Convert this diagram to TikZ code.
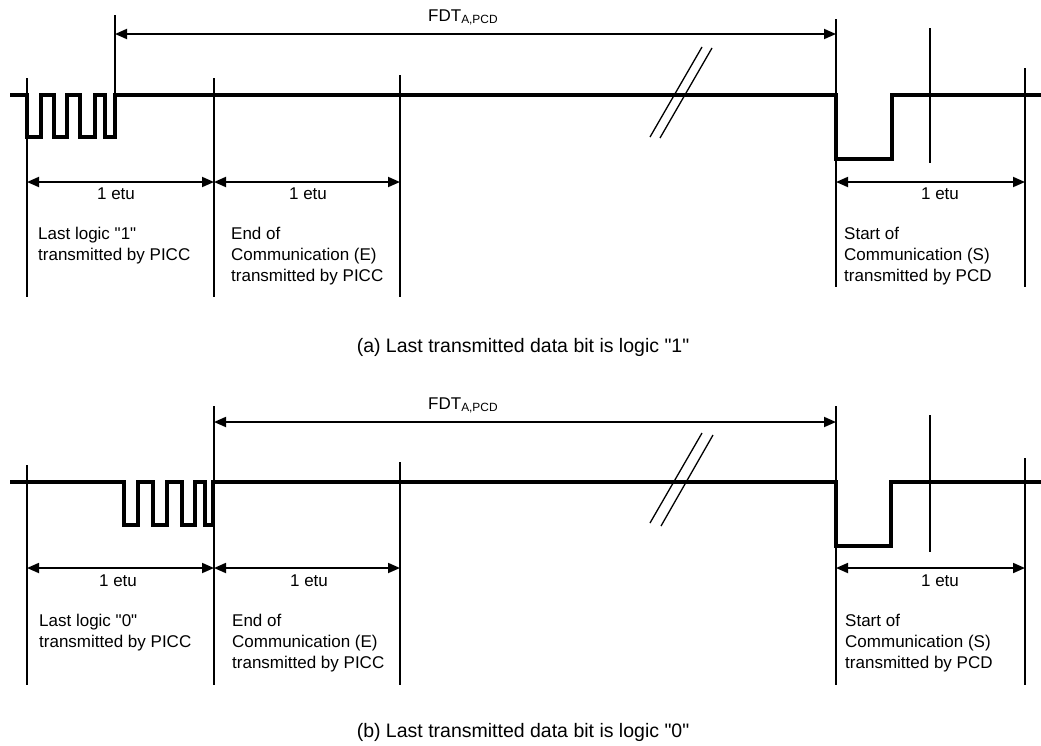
\documentclass[tikz,border=0pt]{standalone}
\usepackage{fontspec}
\setmainfont{Liberation Sans}[Ligatures=TeXOff]
\usetikzlibrary{arrows.meta}
\newcommand{\dq}{\symbol{34}}
\begin{document}
\begin{tikzpicture}[x=1pt,y=-1pt,
  sig/.style={line width=3.3pt, line join=miter},
  vthin/.style={line width=1.2pt},
  vthick/.style={line width=2.6pt},
  dimarrow/.style={line width=1.8pt, {Triangle[length=12pt,width=10pt]}-{Triangle[length=12pt,width=10pt]}},
  lbl/.style={font=\fontsize{17}{21}\selectfont, inner sep=0pt},
  captext/.style={font=\fontsize{19.5}{23}\selectfont, inner sep=0pt, anchor=base},
  blk/.style={lbl, align=left, anchor=north west},
  brk/.style={line width=1.3pt}]
\useasboundingbox (0,0) rectangle (1041,745);

% ---------------- panel (a) ----------------
\coordinate (a1) at (27,182);
\coordinate (a2) at (214,182);
\coordinate (a3) at (400,182);
\coordinate (a4) at (836,182);
\coordinate (a5) at (1025,182);
\coordinate (af1) at (115,34);
\coordinate (af2) at (836,34);

\draw[vthin] (27,78) -- (27,297);
\draw[vthin] (115,15) -- (115,95);
\draw[vthin] (214,78) -- (214,297);
\draw[vthick] (400,75) -- (400,297);
\draw[vthin] (836,19) -- (836,287);
\draw[vthick] (930,28) -- (930,163);
\draw[vthin] (1025,68) -- (1025,287);

\draw[sig] (10,95) -- (27,95) -- (27,137) -- (41,137) -- (41,95) -- (54,95) -- (54,137) -- (67,137) -- (67,95) -- (80,95) -- (80,137) -- (95,137) -- (95,95) -- (105,95) -- (105,137) -- (115,137) -- (115,95) -- (836,95) -- (836,159) -- (892,159) -- (892,95) -- (1041,95);

\draw[brk] (650,137) -- (702,47);
\draw[brk] (660,138) -- (712,48);

\draw[dimarrow] (af1) -- (af2);
\node[lbl, anchor=base west] (fdta) at (428,21) {FDT\textsubscript{A,PCD}};

\draw[dimarrow] (a1) -- (a2);
\draw[dimarrow] (a2) -- (a3);
\draw[dimarrow] (a4) -- (a5);
\node[lbl, anchor=base] (ea1) at (116,199) {1 etu};
\node[lbl, anchor=base] (ea2) at (308,199) {1 etu};
\node[lbl, anchor=base] (ea3) at (940,199) {1 etu};

\node[blk] (ta1) at (38,227) {Last logic \dq1\dq\\transmitted by PICC};
\node[blk] (ta2) at (231,227) {End of\\Communication (E)\\transmitted by PICC};
\node[blk] (ta3) at (844,227) {Start of\\Communication (S)\\transmitted by PCD};

\node[captext] (capa) at (523,352) {(a) Last transmitted data bit is logic \dq1\dq};

% ---------------- panel (b) ----------------
\coordinate (b1) at (27,568);
\coordinate (b2) at (214,568);
\coordinate (b3) at (400,568);
\coordinate (b4) at (836,568);
\coordinate (b5) at (1025,568);
\coordinate (bf1) at (214,422);
\coordinate (bf2) at (836,422);

\draw[vthin] (27,465) -- (27,685);
\draw[vthin] (214,406) -- (214,685);
\draw[vthin] (400,462) -- (400,685);
\draw[vthin] (836,406) -- (836,685);
\draw[vthin] (930,415) -- (930,552);
\draw[vthick] (1025,458) -- (1025,685);

\draw[sig] (10,482) -- (124,482) -- (124,525) -- (138,525) -- (138,482) -- (153,482) -- (153,525) -- (167,525) -- (167,482) -- (182,482) -- (182,525) -- (195,525) -- (195,482) -- (205,482) -- (205,525) -- (213,525) -- (213,482) -- (836,482) -- (836,546) -- (891,546) -- (891,482) -- (1041,482);

\draw[brk] (650,523) -- (702,433);
\draw[brk] (661,526) -- (713,435);

\draw[dimarrow] (bf1) -- (bf2);
\node[lbl, anchor=base west] (fdtb) at (428,409) {FDT\textsubscript{A,PCD}};

\draw[dimarrow] (b1) -- (b2);
\draw[dimarrow] (b2) -- (b3);
\draw[dimarrow] (b4) -- (b5);
\node[lbl, anchor=base] (eb1) at (118,586) {1 etu};
\node[lbl, anchor=base] (eb2) at (309,586) {1 etu};
\node[lbl, anchor=base] (eb3) at (940,586) {1 etu};

\node[blk] (tb1) at (39,614) {Last logic \dq0\dq\\transmitted by PICC};
\node[blk] (tb2) at (232,614) {End of\\Communication (E)\\transmitted by PICC};
\node[blk] (tb3) at (845,614) {Start of\\Communication (S)\\transmitted by PCD};

\node[captext] (capb) at (523,737) {(b) Last transmitted data bit is logic \dq0\dq};
\end{tikzpicture}
\end{document}
